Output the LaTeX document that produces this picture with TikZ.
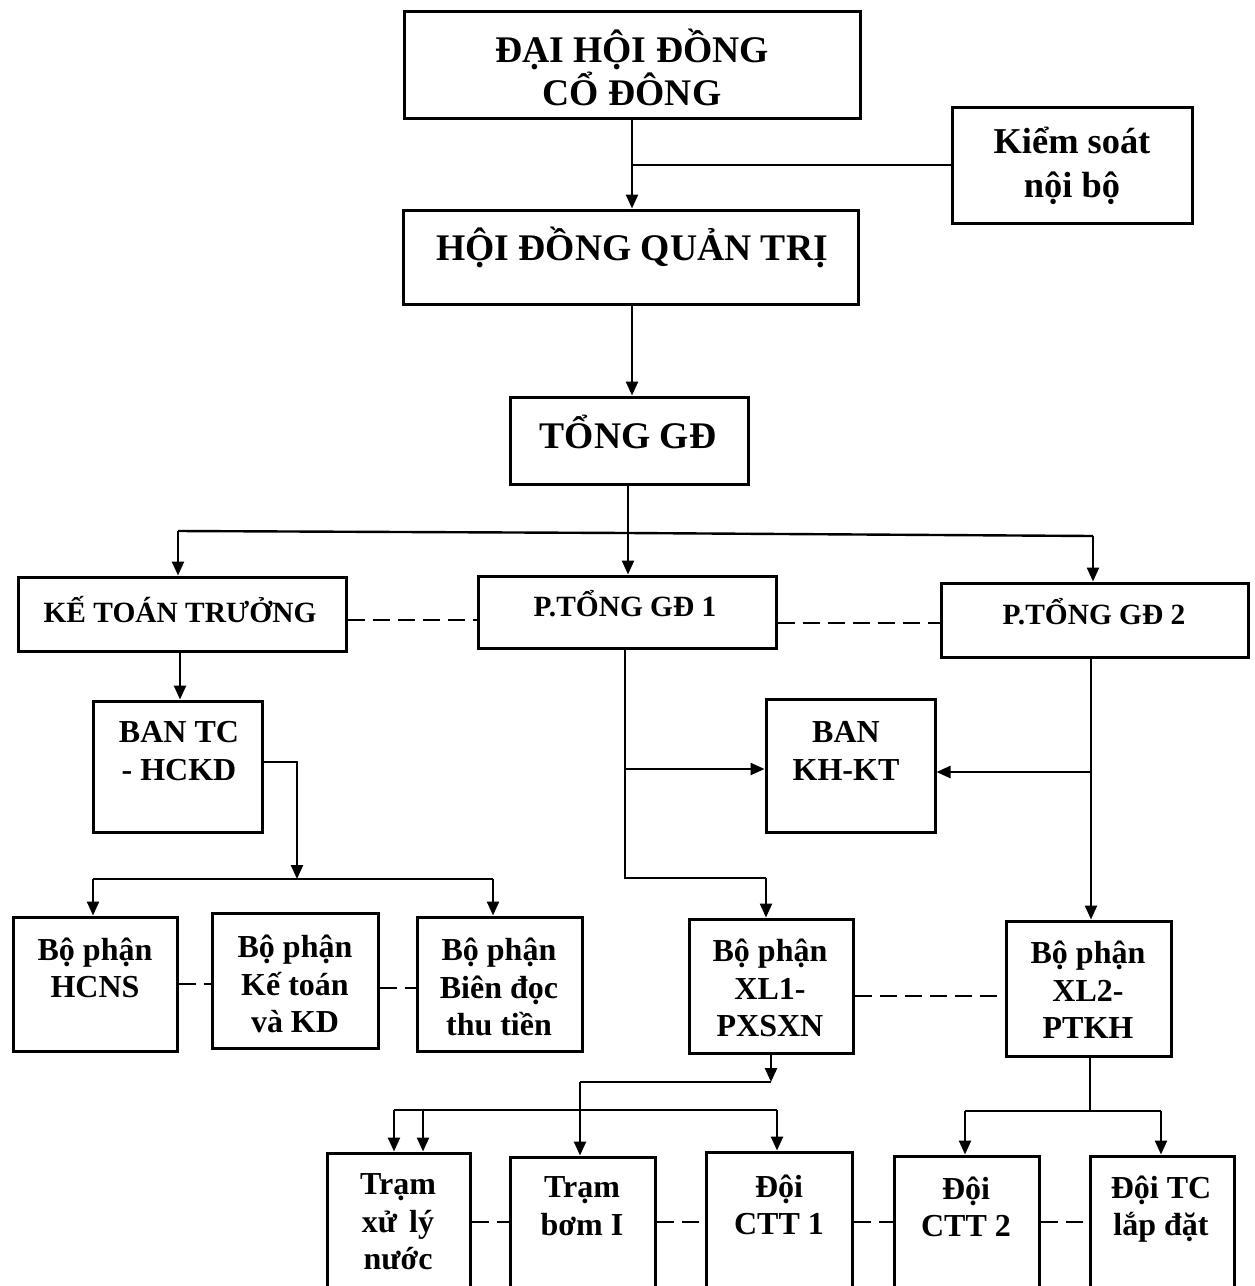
\documentclass[tikz,border=0pt]{standalone}
\usepackage{fontspec}
\setmainfont{Liberation Serif}
\usetikzlibrary{arrows.meta}
\newcommand\mkbox[5]{%
  \node[boxst, minimum width={(#4-#2)*0.5pt}, minimum height={(#5-#3)*0.5pt}] (#1) at ({(#2+#4)/2},{(#3+#5)/2}) {};}
\tikzset{
  boxst/.style={draw, line width=1.5pt, inner sep=0pt, rectangle},
  tbig/.style={align=center, inner sep=0pt, font=\fontsize{18.8}{21.5}\selectfont\bfseries},
  tmid/.style={align=center, inner sep=0pt, font=\fontsize{18.2}{22}\selectfont\bfseries},
  tsm/.style={align=center, inner sep=0pt, font=\fontsize{14.7}{17}\selectfont\bfseries},
  tnorm/.style={align=center, inner sep=0pt, font=\fontsize{16}{18.7}\selectfont\bfseries},
  conn/.style={line width=1.2pt},
  arr/.style={line width=1.2pt, -{Triangle[length=7pt,width=6pt]}},
  dsh/.style={line width=1.2pt, dash pattern=on 8.5pt off 4pt},
}
\begin{document}
\begin{tikzpicture}[x=0.5pt, y=-0.5pt]
\fill[white] (0,0) rectangle (1254,1286);
\useasboundingbox (0,0) rectangle (1254,1286);
\clip (0,0) rectangle (1254,1286);

% boxes
\mkbox{dhd}{404}{11}{860}{118}
\mkbox{ksnb}{952}{107}{1192}{223}
\mkbox{hdqt}{403}{210}{858}{304}
\mkbox{tgd}{510}{397}{748}{484}
\mkbox{ktt}{18}{577}{346}{651}
\mkbox{pt1}{478}{576}{776}{648}
\mkbox{pt2}{941}{583}{1248}{657}
\mkbox{bantc}{93}{701}{262}{832}
\mkbox{khkt}{766}{699}{935}{832}
\mkbox{hcns}{13}{917}{177}{1051}
\mkbox{ktkd}{212}{913}{378}{1048}
\mkbox{bien}{417}{917}{582}{1051}
\mkbox{xl1}{689}{919}{853}{1053}
\mkbox{xl2}{1006}{921}{1171}{1056}
\mkbox{xln}{327}{1153}{470}{1320}
\mkbox{bom}{510}{1157}{655}{1320}
\mkbox{ctt1}{706}{1152}{852}{1320}
\mkbox{ctt2}{894}{1156}{1039}{1320}
\mkbox{tcld}{1090}{1156}{1234}{1320}

% texts
\node[tbig] (tdhd) at (632,67) {ĐẠI HỘI ĐỒNG\\CỔ ĐÔNG};
\node[tmid] (tksnb) at (1072,166) {Kiểm soát\\nội bộ};
\node[tbig] (thdqt) at (632,247) {HỘI ĐỒNG QUẢN TRỊ};
\node[tbig] (ttgd) at (628,432) {TỔNG GĐ};
\node[tsm] (tktt) at (180,610) {KẾ TOÁN TRƯỞNG};
\node[tsm] (tpt1) at (625,604) {P.TỔNG GĐ 1};
\node[tsm] (tpt2) at (1094,612) {P.TỔNG GĐ 2};
\node[tnorm] (tbantc) at (179,751) {BAN TC\\- HCKD};
\node[tnorm] (tkhkt) at (846,751) {BAN\\KH-KT};
\node[tnorm] (thcns) at (95,968) {Bộ phận\\HCNS};
\node[tnorm] (tktkd) at (295,984) {Bộ phận\\Kế toán\\và KD};
\node[tnorm] (tbien) at (499,987) {Bộ phận\\Biên đọc\\thu tiền};
\node[tnorm] (txl1) at (770,988) {Bộ phận\\XL1-\\PXSXN};
\node[tnorm] (txl2) at (1088,990) {Bộ phận\\XL2-\\PTKH};
\node[tnorm] (txln) at (398,1222) {Trạm\\xử\hspace{6pt}lý\\nước};
\node[tnorm] (tbom) at (582,1206) {Trạm\\bơm I};
\node[tnorm] (tctt1) at (779,1205) {Đội\\CTT 1};
\node[tnorm] (tctt2) at (966,1207) {Đội\\CTT 2};
\node[tnorm] (ttcld) at (1161,1209) {Đội TC\\lắp đặt};

% top connectors
\coordinate (v1) at (632,118);
\draw[arr] (v1) -- (v1 |- hdqt.north);
\draw[conn] (ksnb.west) -- (ksnb.west -| v1);
\coordinate (v2) at (632,304);
\draw[arr] (v2) -- (v2 |- tgd.north);

% from Tong GD
\coordinate (b1) at (628,533);
\draw[conn] (b1 |- tgd.south) -- (b1);
\coordinate (b1l) at (178,531);
\coordinate (b1r) at (1093,536);
\draw[conn] (b1l) -- (b1) -- (b1r);
\draw[arr] (b1l) -- (b1l |- ktt.north);
\draw[arr] (b1) -- (b1 |- pt1.north);
\draw[arr] (b1r) -- (b1r |- pt2.north);

% dashed peer lines
\draw[dsh] ([yshift=-3pt]ktt.east) -- ([yshift=-3pt]ktt.east -| pt1.west);
\draw[dsh] ([yshift=-5.5pt]pt1.east) -- ([yshift=-5.5pt]pt1.east -| pt2.west);

% KTT branch
\coordinate (k1) at (180,651);
\draw[arr] (k1) -- (k1 |- bantc.north);
\coordinate (k2) at (297,762);
\coordinate (k3) at (297,879);
\draw[arr] (k2 -| bantc.east) -- (k2) -- (k3);
\coordinate (k3l) at (93,879);
\coordinate (k3r) at (493,879);
\draw[conn] (k3l) -- (k3r);
\draw[arr] (k3l) -- (k3l |- hcns.north);
\draw[arr] (k3r) -- (k3r |- bien.north);
\draw[dsh] (hcns.east |- 0,984) -- (ktkd.west |- 0,984);
\draw[dsh] (ktkd.east |- 0,988) -- (bien.west |- 0,988);

% PTGD1 branch
\coordinate (p1) at (625,648);
\coordinate (p1b) at (625,878);
\coordinate (p1c) at (766,878);
\draw[conn] (p1) -- (p1b) -- (p1c);
\draw[arr] (p1c) -- (p1c |- xl1.north);
\coordinate (p1k) at (625,769);
\draw[arr] (p1k) -- (p1k -| khkt.west);

% PTGD2 branch
\coordinate (p2) at (1091,657);
\draw[arr] (p2) -- (p2 |- xl2.north);
\coordinate (p2k) at (1091,772);
\draw[arr] (p2k) -- (p2k -| khkt.east);
\draw[dsh] (xl1.east |- 0,996) -- (xl2.west |- 0,996);

% XL1 branch
\coordinate (x1) at (771,1053);
\coordinate (x1b) at (771,1082);
\draw[arr] (x1) -- (x1b);
\coordinate (x1c) at (580,1082);
\draw[conn] (x1b) -- (x1c);
\draw[arr] (x1c) -- (x1c |- bom.north);
\coordinate (bl) at (394,1110);
\coordinate (bm) at (423,1110);
\coordinate (br) at (777,1110);
\draw[conn] (bl) -- (br);
\draw[arr] (bl) -- (bl |- xln.north);
\draw[arr] (bm) -- (bm |- xln.north);
\draw[arr] (br) -- (br |- ctt1.north);

% XL2 branch
\coordinate (x2) at (1090,1056);
\coordinate (x2b) at (1090,1111);
\draw[conn] (x2) -- (x2b);
\coordinate (x2l) at (965,1111);
\coordinate (x2r) at (1161,1111);
\draw[conn] (x2l) -- (x2r);
\draw[arr] (x2l) -- (x2l |- ctt2.north);
\draw[arr] (x2r) -- (x2r |- tcld.north);

% bottom dashed
\draw[dsh] (xln.east |- 0,1222) -- (bom.west |- 0,1222);
\draw[dsh] (bom.east |- 0,1222) -- (ctt1.west |- 0,1222);
\draw[dsh] (ctt1.east |- 0,1222) -- (ctt2.west |- 0,1222);
\draw[dsh] (ctt2.east |- 0,1222) -- (tcld.west |- 0,1222);
\end{tikzpicture}
\end{document}
